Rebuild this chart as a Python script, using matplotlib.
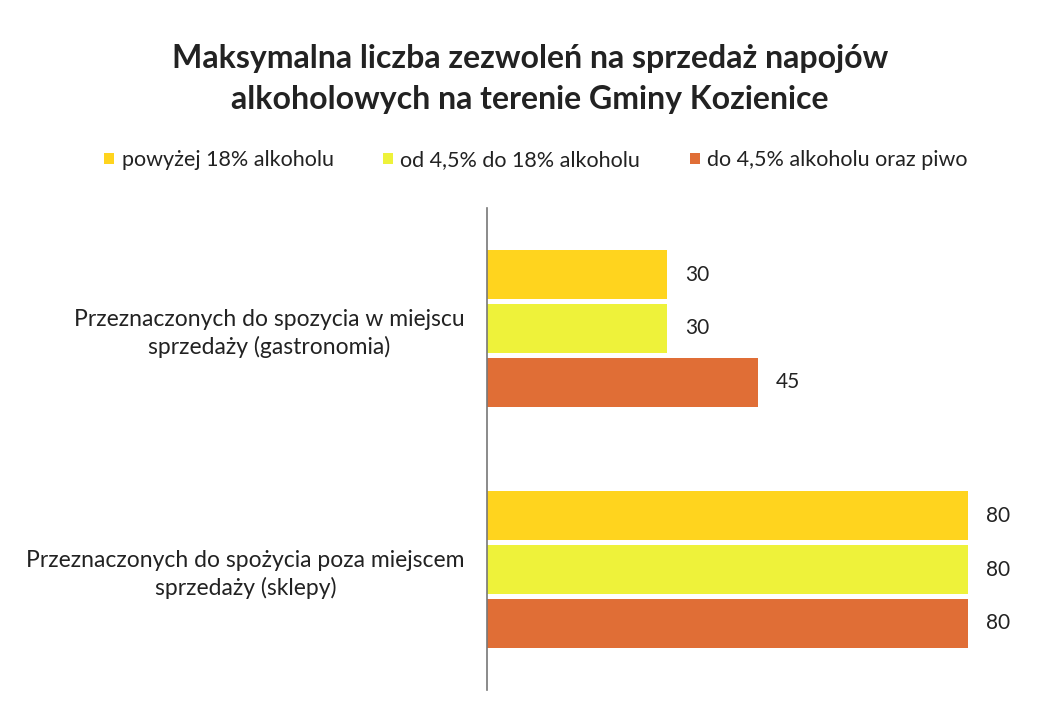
import matplotlib
matplotlib.use("Agg")
import matplotlib.pyplot as plt
from matplotlib.patches import Patch

plt.rcParams['font.family'] = ['Lato', 'DejaVu Sans']

categories = ["Przeznaczonych do spożycia poza miejscem\nsprzedaży (sklepy)",
              "Przeznaczonych do spozycia w miejscu\nsprzedaży (gastronomia)"]
series_names = ["powyżej 18% alkoholu", "od 4,5% do 18% alkoholu", "do 4,5% alkoholu oraz piwo"]
values_above18 = [80, 30]
values_4_18 = [80, 30]
values_below45 = [80, 45]
title = "Maksymalna liczba zezwoleń na sprzedaż napojów\nalkoholowych na terenie Gminy Kozienice"

colors = ["#FFD41E", "#EEF23A", "#E06E36"]
series = [values_above18, values_4_18, values_below45]
offsets = [0.224, 0.0, -0.224]
bar_h = 0.207

fig = plt.figure(figsize=(10.44, 7.12), dpi=100)
ax = fig.add_axes([487/1044, 1 - 690/712, (1028 - 487)/1044, (690 - 208)/712])

ypos = list(range(len(categories)))
for vals, col, off in zip(series, colors, offsets):
    ys = [y + off for y in ypos]
    bars = ax.barh(ys, vals, height=bar_h, color=col, edgecolor='none')
    for b, v in zip(bars, vals):
        ax.text(b.get_width() + 3, b.get_y() + b.get_height() / 2, str(v),
                va='center', ha='left', fontsize=15, color='#222222')

ax.set_xlim(0, 90)
ax.set_ylim(-0.5, 1.5)
ax.set_yticks(ypos)
ax.set_yticklabels(categories, fontsize=16.5, color='#222222',
                   multialignment='center', linespacing=1.35)
ax.tick_params(axis='y', length=0, pad=16)
ax.set_xticks([])
for s in ['top', 'right', 'bottom']:
    ax.spines[s].set_visible(False)
ax.spines['left'].set_color('#777777')
ax.spines['left'].set_linewidth(1.2)

fig.text(530/1044, 1 - 79/712, title, ha='center', va='center', fontsize=23,
         fontweight='bold', color='#222222', linespacing=1.5)

handles = [Patch(facecolor=c, edgecolor='none') for c in colors]
fig.legend(handles, series_names, loc='center', bbox_to_anchor=(536/1044, 1 - 160/712),
           ncol=3, frameon=False, fontsize=15.5, handlelength=0.45, handleheight=0.45,
           handletextpad=0.35, columnspacing=2.3, labelcolor='#222222')

fig.savefig("out.png", dpi=100, facecolor='white')
